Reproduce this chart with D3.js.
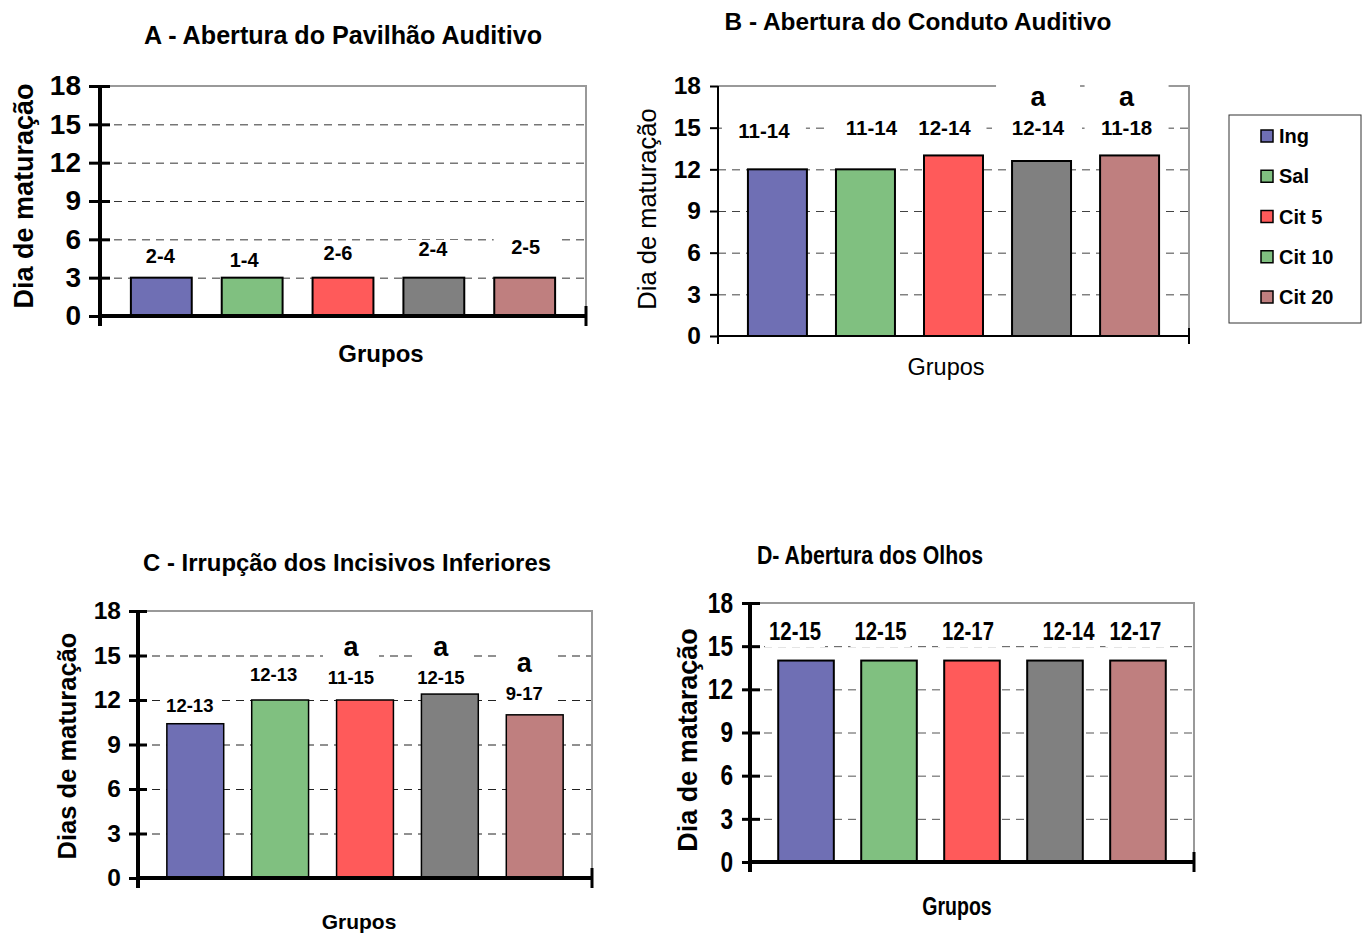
<!DOCTYPE html>
<html>
<head>
<meta charset="utf-8">
<script src="https://cdn.jsdelivr.net/npm/d3@7"></script>
<style>
  body { margin: 0; background: #fff; }
  svg { display: block; }
  text { font-family: "Liberation Sans", Arial, Helvetica, sans-serif; fill: #000; }
</style>
</head>
<body>
<svg id="fig" width="1365" height="934"></svg>
<script>
// Grupos experimentais e cores
const grupos = ["Ing", "Sal", "Cit 5", "Cit 10", "Cit 20"];
const coresGrupos = ["#6f6fb4", "#80c080", "#ff5a5a", "#808080", "#bf7f7f"];
const coresLegenda = ["#6f6fb4", "#80c080", "#ff5a5a", "#80c080", "#bf7f7f"];
const ticksDias = [0, 3, 6, 9, 12, 15, 18];

// A - Abertura do Pavilhão Auditivo
const mediasA = [3, 3, 3, 3, 3];
const faixasA = ["2-4", "1-4", "2-6", "2-4", "2-5"];
const letrasA = ["", "", "", "", ""];

// B - Abertura do Conduto Auditivo
const mediasB = [12, 12, 13, 12.6, 13];
const faixasB = ["11-14", "11-14", "12-14", "12-14", "11-18"];
const letrasB = ["", "", "", "a", "a"];

// C - Irrupção dos Incisivos Inferiores
const mediasC = [10.4, 12, 12, 12.4, 11];
const faixasC = ["12-13", "12-13", "11-15", "12-15", "9-17"];
const letrasC = ["", "", "a", "a", "a"];

// D - Abertura dos Olhos
const mediasD = [14, 14, 14, 14, 14];
const faixasD = ["12-15", "12-15", "12-17", "12-14", "12-17"];
const letrasD = ["", "", "", "", ""];

// Layout de cada painel
const paineis = [
  {
    titulo: "A - Abertura do Pavilhão Auditivo", eixoY: "Dia de maturação", eixoX: "Grupos",
    medias: mediasA, faixas: faixasA, letras: letrasA,
    area: { l: 100, r: 586, t: 86, b: 316 },
    tit: { x: 343, y: 35, size: 25, len: 398 },
    ylab: { x: 23, y: 196, size: 27, weight: "bold" },
    xlab: { x: 381, y: 353, size: 24, weight: "bold" },
    tickSize: 28, tickPad: 8, tickOut: 11, tickIn: 10, tickW: 3, axisW: 4,
    grid: "#333", barW: 2,
    labDx: [-1, -8, -5, -1, 1], labY: [256, 260, 253, 249, 247], labSize: 20,
    letY: null, letSize: 26, boxW: 64, boxTop: 11, boxBot: 9, condense: 1
  },
  {
    titulo: "B - Abertura do Conduto Auditivo", eixoY: "Dia de maturação", eixoX: "Grupos",
    medias: mediasB, faixas: faixasB, letras: letrasB,
    area: { l: 718, r: 1189, t: 86, b: 336 },
    tit: { x: 918, y: 21, size: 24, len: 387 },
    ylab: { x: 647, y: 209, size: 25.5, weight: "normal" },
    xlab: { x: 946, y: 367, size: 23.5, weight: "normal" },
    tickSize: 24.5, tickPad: 9, tickOut: 8, tickIn: 0, tickW: 2, axisW: 2,
    grid: "#444", barW: 2,
    labDx: [-13.5, 6, -9, -3.5, -3], labY: [131, 128, 128, 128, 128], labSize: 20.5,
    letY: 96, letSize: 27, boxW: 84, boxTop: 13, boxBot: 9, condense: 1
  },
  {
    titulo: "C - Irrupção dos Incisivos Inferiores", eixoY: "Dias de maturação", eixoX: "Grupos",
    medias: mediasC, faixas: faixasC, letras: letrasC,
    area: { l: 138, r: 592, t: 611, b: 878 },
    tit: { x: 347, y: 562, size: 24, len: 408 },
    ylab: { x: 67, y: 746, size: 25.5, weight: "bold" },
    xlab: { x: 359, y: 921, size: 21, weight: "bold" },
    tickSize: 24.5, tickPad: 8, tickOut: 9, tickIn: 9, tickW: 3, axisW: 4,
    grid: "#222", barW: 1.5,
    labDx: [-5.5, -6.5, -14, -9, -10.5], labY: [705, 674, 677, 677, 693], labSize: 18.5,
    letY: [null, null, 646, 646, 662], letSize: 27, boxW: 56, boxTop: 13, boxBot: 9, condense: 1
  },
  {
    titulo: "D- Abertura dos Olhos", eixoY: "Dia de mataração", eixoX: "Grupos",
    medias: mediasD, faixas: faixasD, letras: letrasD,
    area: { l: 750, r: 1194, t: 603, b: 862 },
    tit: { x: 870, y: 555, size: 25, len: 226 },
    ylab: { x: 687, y: 740, size: 27, weight: "bold" },
    xlab: { x: 957, y: 906, size: 25, weight: "bold" },
    tickSize: 29, tickPad: 9, tickOut: 8, tickIn: 10, tickW: 3, axisW: 4,
    grid: "#555", barW: 2,
    labDx: [-11, -8.5, -4, 13.5, -2.5], labY: [631, 631, 631, 631, 631], labSize: 26,
    letY: null, letSize: 26, boxW: 60, boxTop: 13, boxBot: 16, condense: 0.78
  }
];

const svg = d3.select("#fig");

function condensar(sel, fator) {
  if (fator >= 1) return;
  sel.each(function () {
    const w = this.getComputedTextLength();
    d3.select(this).attr("textLength", w * fator).attr("lengthAdjust", "spacingAndGlyphs");
  });
}

function desenharPainel(p) {
  const g = svg.append("g");
  const { l, r, t, b } = p.area;

  const x = d3.scaleBand().domain(grupos).range([l, r]).paddingInner(0.33).paddingOuter(0.34);
  const y = d3.scaleLinear().domain([0, 18]).range([b, t]);

  // linhas de grade tracejadas
  g.append("g")
    .attr("transform", `translate(${l},0)`)
    .call(d3.axisLeft(y).tickValues(ticksDias.filter(v => v > 0 && v < 18)).tickSize(-(r - l)).tickFormat(""))
    .call(s => s.select(".domain").remove())
    .call(s => s.selectAll("line").attr("stroke", p.grid).attr("stroke-width", 1).attr("stroke-dasharray", "8,6"));

  // moldura cinza (topo e direita)
  g.append("path")
    .attr("d", `M${l},${y(18)}H${r}V${y(0)}`)
    .attr("fill", "none").attr("stroke", "#999").attr("stroke-width", 2);

  // barras
  g.append("g").selectAll("rect")
    .data(p.medias)
    .join("rect")
    .attr("x", (d, i) => x(grupos[i]))
    .attr("y", d => y(d))
    .attr("width", x.bandwidth())
    .attr("height", d => y(0) - y(d))
    .attr("fill", (d, i) => coresGrupos[i])
    .attr("stroke", "#000")
    .attr("stroke-width", p.barW);

  // rótulos de faixa (com caixa branca) e letras de significância
  const cx = i => x(grupos[i]) + x.bandwidth() / 2 + p.labDx[i];
  const letraY = i => Array.isArray(p.letY) ? p.letY[i] : p.letY;
  const rot = g.append("g");
  p.faixas.forEach((f, i) => {
    const temLetra = p.letras[i] !== "";
    const topo = temLetra ? letraY(i) - p.boxTop : p.labY[i] - p.boxTop + 2;
    rot.append("rect")
      .attr("x", cx(i) - p.boxW / 2).attr("width", p.boxW)
      .attr("y", topo).attr("height", p.labY[i] + p.boxBot - topo)
      .attr("fill", "#fff");
  });
  const txtFaixa = rot.selectAll("text.faixa")
    .data(p.faixas)
    .join("text")
    .attr("class", "faixa")
    .attr("x", (d, i) => cx(i))
    .attr("y", (d, i) => p.labY[i])
    .attr("dy", "0.36em")
    .attr("text-anchor", "middle")
    .attr("font-weight", "bold")
    .attr("font-size", p.labSize)
    .text(d => d);
  condensar(txtFaixa, p.condense);
  rot.selectAll("text.letra")
    .data(p.letras.map((d, i) => ({ d, i })).filter(o => o.d !== ""))
    .join("text")
    .attr("class", "letra")
    .attr("x", o => cx(o.i))
    .attr("y", o => letraY(o.i))
    .attr("dy", "0.36em")
    .attr("text-anchor", "middle")
    .attr("font-weight", "bold")
    .attr("font-size", p.letSize)
    .text(o => o.d);

  // eixo Y
  const ay = g.append("g")
    .attr("transform", `translate(${l},0)`)
    .call(d3.axisLeft(y).tickValues(ticksDias).tickSize(p.tickOut).tickPadding(p.tickPad))
    .call(s => s.select(".domain").remove());
  ay.selectAll(".tick line")
    .attr("x1", p.tickIn).attr("x2", -p.tickOut)
    .attr("stroke", "#000").attr("stroke-width", p.tickW);
  const tickTxt = ay.selectAll(".tick text")
    .attr("font-weight", "bold")
    .attr("font-size", p.tickSize)
    .attr("fill", "#000");
  condensar(tickTxt, p.condense);

  // linhas dos eixos
  const ext = p.axisW >= 4 ? 10 : 8;
  g.append("line")
    .attr("x1", l).attr("x2", l).attr("y1", y(18)).attr("y2", y(0) + ext)
    .attr("stroke", "#000").attr("stroke-width", p.axisW);
  g.append("line")
    .attr("x1", l).attr("x2", r).attr("y1", y(0)).attr("y2", y(0))
    .attr("stroke", "#000").attr("stroke-width", p.axisW);
  g.append("line")
    .attr("x1", r).attr("x2", r).attr("y1", y(0) - ext).attr("y2", y(0) + ext)
    .attr("stroke", "#000").attr("stroke-width", p.axisW >= 4 ? 3 : 2);

  // título
  g.append("text")
    .attr("x", p.tit.x).attr("y", p.tit.y).attr("dy", "0.36em")
    .attr("text-anchor", "middle").attr("font-weight", "bold")
    .attr("font-size", p.tit.size)
    .attr("textLength", p.tit.len)
    .attr("lengthAdjust", "spacingAndGlyphs")
    .text(p.titulo);

  // rótulo do eixo Y
  g.append("text")
    .attr("transform", `translate(${p.ylab.x},${p.ylab.y}) rotate(-90)`)
    .attr("dy", "0.36em")
    .attr("text-anchor", "middle")
    .attr("font-weight", p.ylab.weight)
    .attr("font-size", p.ylab.size)
    .text(p.eixoY);

  // rótulo do eixo X
  const xl = g.append("text")
    .attr("x", p.xlab.x).attr("y", p.xlab.y).attr("dy", "0.36em")
    .attr("text-anchor", "middle")
    .attr("font-weight", p.xlab.weight)
    .attr("font-size", p.xlab.size)
    .text(p.eixoX);
  condensar(xl, p.condense);
}

paineis.forEach(desenharPainel);

// legenda
const leg = svg.append("g");
leg.append("rect")
  .attr("x", 1229).attr("y", 115).attr("width", 132).attr("height", 208)
  .attr("fill", "#fff").attr("stroke", "#333").attr("stroke-width", 1);
const legY = d3.scalePoint().domain(grupos).range([136, 297]);
const item = leg.selectAll("g.item")
  .data(grupos)
  .join("g")
  .attr("class", "item")
  .attr("transform", d => `translate(1261,${legY(d)})`);
item.append("rect")
  .attr("x", 0).attr("y", -6).attr("width", 12).attr("height", 12)
  .attr("fill", (d, i) => coresLegenda[i])
  .attr("stroke", "#000").attr("stroke-width", 1.5);
item.append("text")
  .attr("x", 18).attr("y", 0).attr("dy", "0.36em")
  .attr("font-weight", "bold").attr("font-size", 20)
  .text(d => d);
</script>
</body>
</html>
